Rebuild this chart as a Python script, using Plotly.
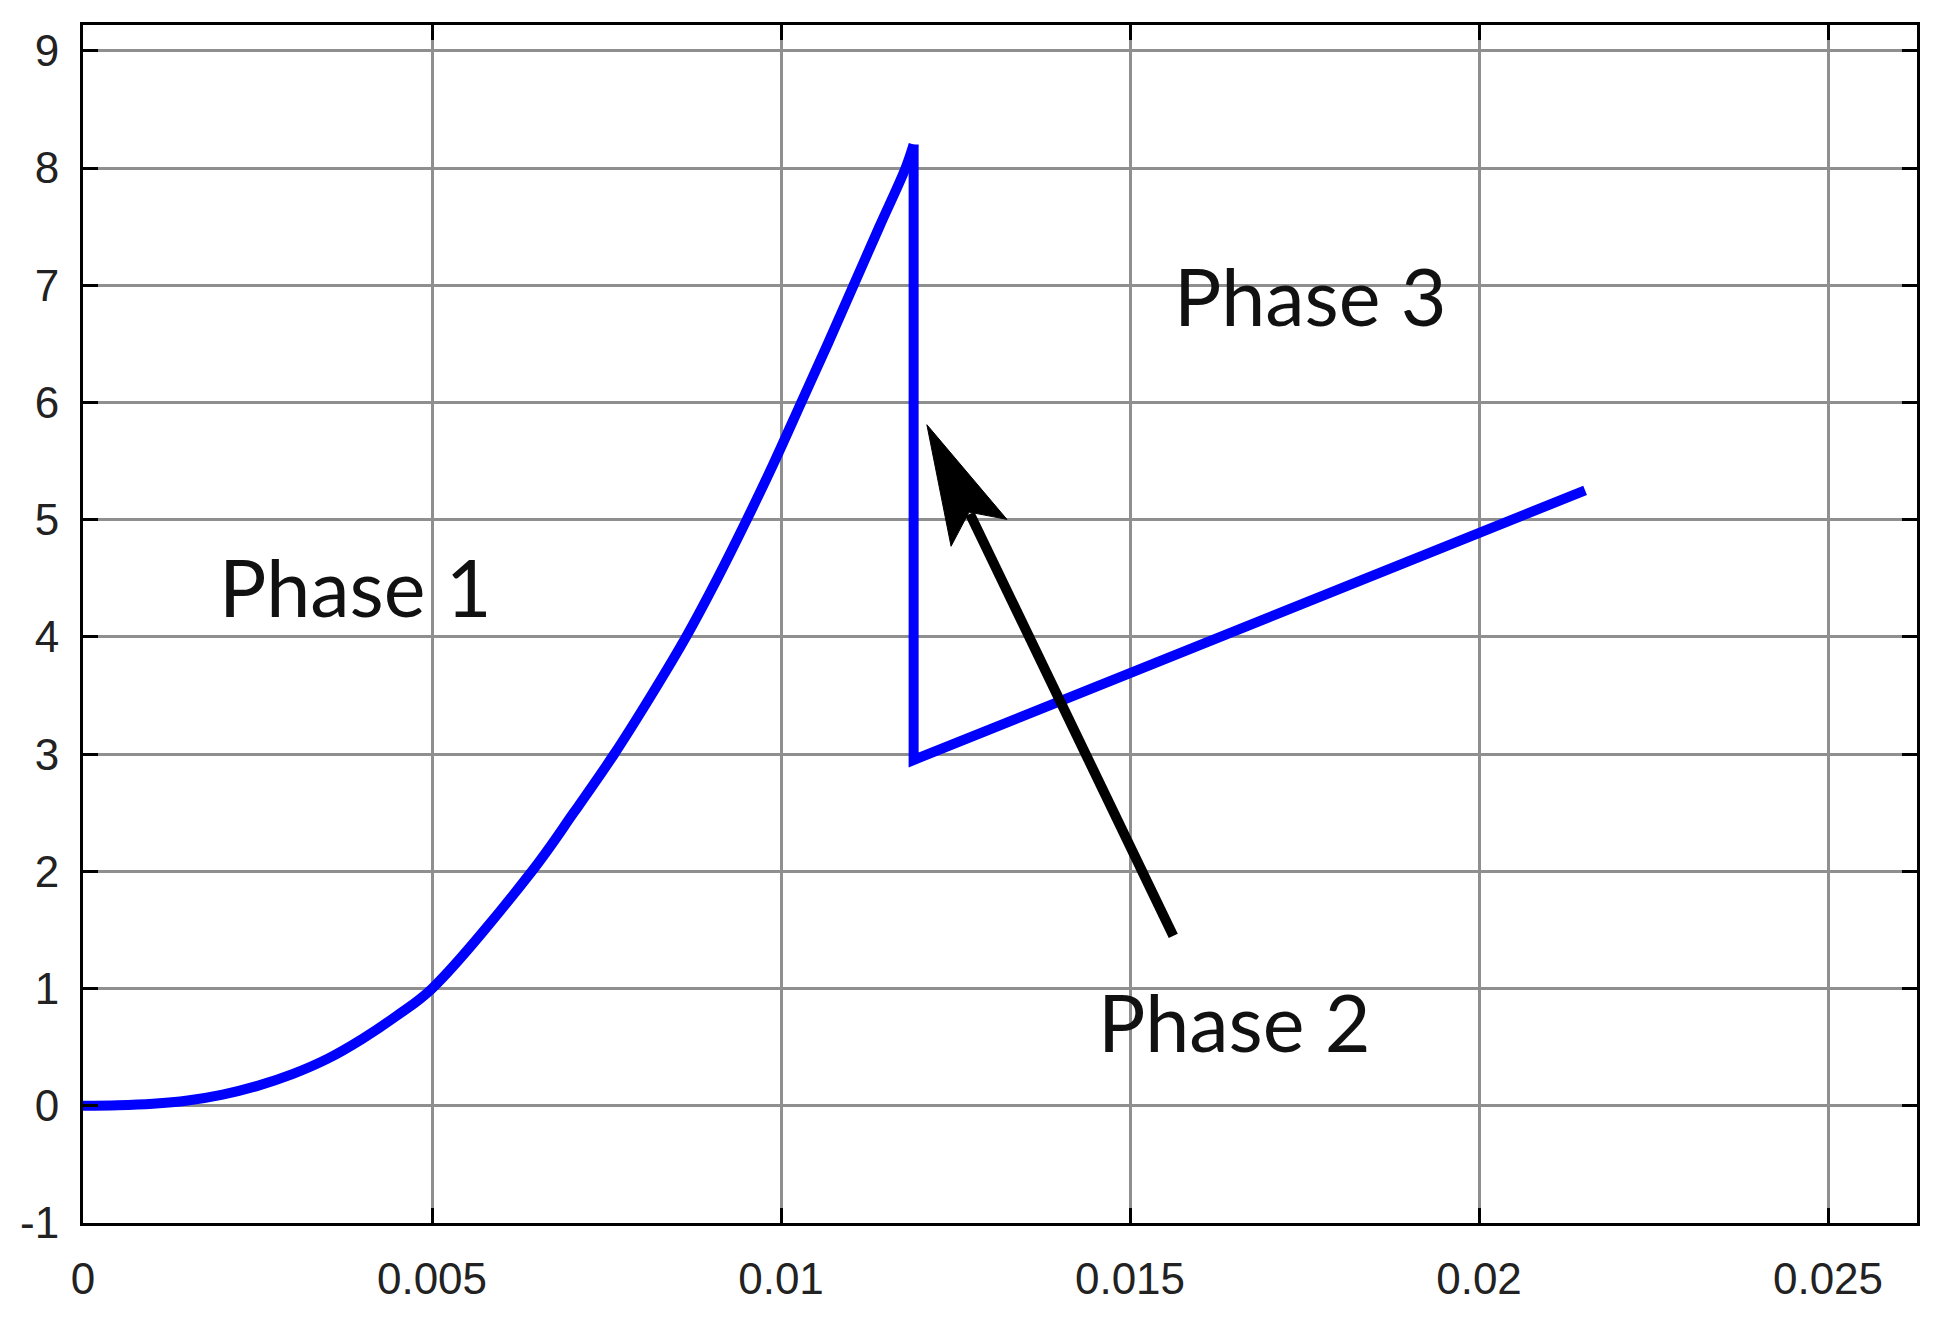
import numpy as np
import plotly.graph_objects as go

# ---- data ----
phase1_x = [0, 0.0005, 0.001, 0.0015, 0.002, 0.0025, 0.003, 0.0035, 0.004, 0.0045,
            0.005, 0.00643, 0.00703, 0.00761, 0.00814, 0.00864, 0.00909,
            0.00951, 0.00991, 0.01029, 0.01067, 0.01104, 0.01141, 0.011785, 0.0119]
phase1_y = [0, 0.004, 0.017, 0.045, 0.095, 0.17, 0.27, 0.40, 0.57, 0.77,
            1.0, 2.0, 2.5, 3.0, 3.5, 4.0, 4.5,
            5.0, 5.5, 6.0, 6.5, 7.0, 7.5, 8.0, 8.2]

phase23_x = [0.0119, 0.0119, 0.02152]
phase23_y = [8.2, 2.95, 5.25]

x_ticks = [0, 0.005, 0.01, 0.015, 0.02, 0.025]
x_tick_labels = ["0", "0.005", "0.01", "0.015", "0.02", "0.025"]
y_ticks = [-1, 0, 1, 2, 3, 4, 5, 6, 7, 8, 9]
y_tick_labels = ["-1", "0", "1", "2", "3", "4", "5", "6", "7", "8", "9"]

label_text = ["Phase 1", "Phase 3", "Phase 2"]
label_x = [0.003911, 0.017579, 0.016490]
label_y = [4.434, 6.913, 0.717]

arrow_tail = (0.01562, 1.45)
arrow_tip = (0.01209, 5.81)

# ---- layout geometry ----
W, H = 1951, 1320
ML, MR, MT, MB = 75, 42, 17, 105
x_range = [0, 0.026275]
y_range = [-1, 9.22]
plot_w = W - ML - MR
plot_h = H - MT - MB
sx = plot_w / (x_range[1] - x_range[0])
sy = plot_h / (y_range[1] - y_range[0])

fig = go.Figure()
fig.add_trace(go.Scatter(x=phase1_x, y=phase1_y, mode="lines",
                         line=dict(color="#0000ff", width=10, shape="spline", smoothing=1.0),
                         showlegend=False, hoverinfo="skip"))
fig.add_trace(go.Scatter(x=phase23_x, y=phase23_y, mode="lines",
                         line=dict(color="#0000ff", width=10),
                         showlegend=False, hoverinfo="skip"))

# ---- arrow (shaft + slender notched head) built from tip/tail in pixel space ----
tip = np.array([arrow_tip[0] * sx, arrow_tip[1] * sy])
tail = np.array([arrow_tail[0] * sx, arrow_tail[1] * sy])
u = (tail - tip) / np.linalg.norm(tail - tip)
n = np.array([-u[1], u[0]])
head_len, head_w, notch = 120, 62, 97
pts = [tip, tip + u * head_len + n * head_w / 2, tip + u * notch,
       tip + u * head_len - n * head_w / 2]
to_data = lambda p: (p[0] / sx, p[1] / sy)
path = "M " + " L ".join("%.7f,%.5f" % to_data(p) for p in pts) + " Z"
fig.add_shape(type="path", path=path, xref="x", yref="y",
              fillcolor="black", line=dict(color="black", width=1), layer="above")
neck = to_data(tip + u * (notch + 2))
fig.add_shape(type="line", x0=arrow_tail[0], y0=arrow_tail[1], x1=neck[0], y1=neck[1],
              xref="x", yref="y", line=dict(color="black", width=10), layer="above")

for t, x, y in zip(label_text, label_x, label_y):
    fig.add_annotation(x=x, y=y, text=t, showarrow=False, xanchor="center", yanchor="middle",
                       font=dict(family="Lato", size=79, color="#111111"))

axis_common = dict(showgrid=True, gridcolor="#8f8f8f", gridwidth=2.5, zeroline=False,
                   showline=True, linecolor="black", linewidth=3, mirror="ticks",
                   ticks="inside", ticklen=15, tickwidth=3, tickcolor="black",
                   tickfont=dict(family="Liberation Sans", size=44, color="#222222"))
fig.update_xaxes(range=x_range, tickvals=x_ticks, ticktext=x_tick_labels,
                 ticklabelstandoff=15, **axis_common)
fig.update_yaxes(range=y_range, tickvals=y_ticks, ticktext=y_tick_labels,
                 ticklabelstandoff=12, **axis_common)

fig.update_layout(width=W, height=H, margin=dict(l=ML, r=MR, t=MT, b=MB),
                  plot_bgcolor="white", paper_bgcolor="white", showlegend=False)
fig.write_html("out.html")
